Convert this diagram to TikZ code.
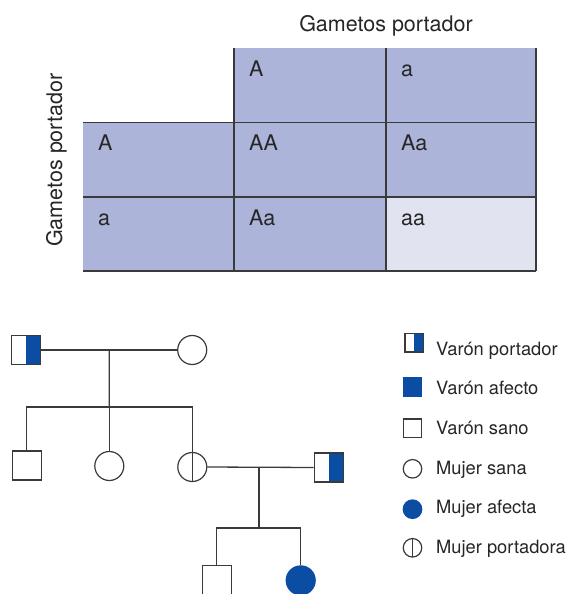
\documentclass[tikz,border=0pt]{standalone}
\usepackage{fontspec}
\setmainfont{TeX Gyre Heros}
\usetikzlibrary{calc}

\definecolor{cellblue}{HTML}{ADB4DA}
\definecolor{celllight}{HTML}{E1E3F1}
\definecolor{affected}{HTML}{0B4DA2}
\definecolor{pedline}{HTML}{3A3A3A}

\tikzset{
    gridline/.style={draw=pedline, line width=1.3pt},
    link/.style={draw=pedline, line width=1.3pt},
    male/.style={rectangle, draw=pedline, line width=1.2pt, fill=white, minimum size=29pt, inner sep=0pt},
    female/.style={circle, draw=pedline, line width=1.2pt, fill=white, minimum size=29pt, inner sep=0pt},
    carriermale/.style={male, path picture={\fill[affected] (path picture bounding box.north) rectangle (path picture bounding box.south east);}},
    carrierfemale/.style={female, path picture={\draw[pedline, line width=1.2pt] (path picture bounding box.north) -- (path picture bounding box.south);}},
    affectedmale/.style={male, fill=affected, draw=affected},
    affectedfemale/.style={female, fill=affected, draw=affected},
    keysize/.style={minimum size=18.5pt},
    label/.style={font=\fontsize{21.5}{26}\selectfont, text=black!85, inner sep=0pt},
    keytext/.style={font=\fontsize{18.3}{22}\selectfont, text=black!85, inner sep=0pt, anchor=base west}
}

\begin{document}
\begin{tikzpicture}[x=1pt, y=-1pt]
    \path[use as bounding box] (0,0) rectangle (570,594);
    \clip (0,0) rectangle (570,594);

    % Draw Punnett square
    \fill[cellblue] (234,48) rectangle (536,122.5);
    \fill[cellblue] (83,122.5) rectangle (536,271);
    \fill[celllight] (386,197) rectangle (536,271);
    \foreach \x in {234,386,536} {
        \draw[gridline] (\x,48) -- (\x,271);
    }
    \foreach \y in {122.5,197,271} {
        \draw[gridline] (83,\y) -- (536,\y);
    }

    % Cell labels
    \foreach \x/\y/\txt [count=\i] in {234/48/A, 386/48/a, 83/122.5/A, 234/122.5/AA, 386/122.5/Aa,
                                        83/197/a, 234/197/Aa, 386/197/aa} {
        \pgfmathsetmacro{\tx}{\x+15}
        \pgfmathsetmacro{\ty}{\y+28}
        \node[label, anchor=base west] (cell\i) at (\tx,\ty) {\txt};
    }
    \node[label, anchor=base] (toptitle) at (386,32) {Gametos portador};
    \node[label, anchor=base, rotate=90] (sidetitle) at (62,160) {Gametos portador};

    % Draw pedigree
    \node[carriermale] (grandpa) at (26.2,350) {};
    \node[female] (grandma) at (192.2,350) {};
    \node[male] (son) at (26.8,465.5) {};
    \node[female] (daughter) at (109.3,466) {};
    \node[carrierfemale] (mother) at (192.3,467) {};
    \node[carriermale] (father) at (328.8,467.5) {};
    \node[male] (grandson) at (216.8,580.2) {};
    \node[affectedfemale] (granddaughter) at (300.7,580.4) {};

    \coordinate (couple1) at ($(grandpa)!0.5!(grandma)$);
    \coordinate (sibs1) at (109.3,407);
    \coordinate (couple2) at (259,467);
    \coordinate (sibs2) at (259,528);

    \draw[link] (grandpa) -- (grandma);
    \draw[link] (couple1) -- (sibs1);
    \draw[link] (son.north) |- (sibs1) -| (mother.north);
    \draw[link] (sibs1) -- (daughter.north);
    \draw[link] (mother.east) -- (father.west);
    \draw[link] (couple2) -- (sibs2);
    \draw[link] (grandson.north) |- (sibs2) -| (granddaughter.north);

    % Legend
    \node[carriermale, keysize] (key1) at (414.2,342.8) {};
    \node[affectedmale, keysize] (key2) at (412.5,386.7) {};
    \node[male, keysize] (key3) at (412.5,428.3) {};
    \node[female, keysize] (key4) at (412.5,468.8) {};
    \node[affectedfemale, keysize] (key5) at (412.5,509.2) {};
    \node[carrierfemale, keysize] (key6) at (412.5,547.8) {};
    \foreach \txt [count=\i] in {Varón portador, Varón afecto, Varón sano, Mujer sana, Mujer afecta, Mujer portadora} {
        \pgfmathsetmacro{\ty}{355+39.7*(\i-1)}
        \node[keytext] (keytext\i) at (436,\ty) {\txt};
    }
\end{tikzpicture}
\end{document}
